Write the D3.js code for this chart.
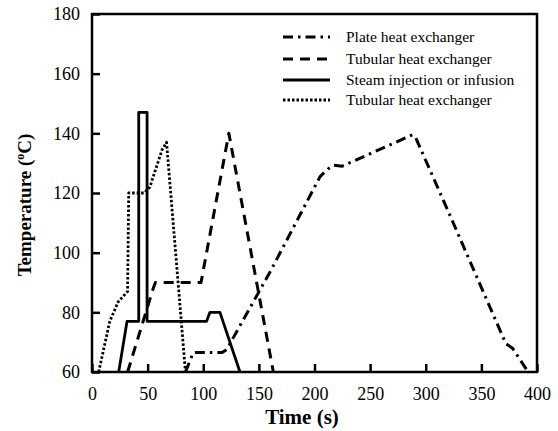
<!DOCTYPE html>
<html>
<head>
<meta charset="utf-8">
<title>Temperature profiles</title>
<script src="https://cdn.jsdelivr.net/npm/d3@7"></script>
<style>
  body { margin: 0; background: #fff; }
  svg { display: block; }
  text { font-family: "Liberation Serif", "Times New Roman", serif; fill: #000; }
</style>
</head>
<body>
<div id="chart"></div>
<script>

var xTicks = [0, 50, 100, 150, 200, 250, 300, 350, 400];
var yTicks = [60, 80, 100, 120, 140, 160, 180];

// plate heat exchanger (dash-dot)
var plateTime = [84, 91, 117, 121, 160, 205, 212, 217, 225, 288, 291, 320, 372, 378, 392];
var plateTemp = [60, 66.5, 66.5, 67.5, 93.5, 125.5, 128, 129.3, 129, 139.5, 138.5, 114, 69.5, 68, 60];

// tubular heat exchanger (dashed)
var tubeTime = [32, 55, 57, 98, 123, 163];
var tubeTemp = [60, 88, 90, 90, 140, 60];

// steam injection or infusion (solid)
var steamTime = [24, 31.5, 42, 42, 49.5, 49.5, 103, 106, 115, 133];
var steamTemp = [60, 77, 77, 147, 147, 77, 77, 80, 80, 60];

// tubular heat exchanger, second (dotted)
var tube2Time = [6, 16, 23.5, 32, 33, 47, 52, 63, 67, 84];
var tube2Temp = [60, 77, 83.5, 87, 120, 120, 122, 134.5, 137, 60];

var legendLabels = ['Plate heat exchanger', 'Tubular heat exchanger',
  'Steam injection or infusion', 'Tubular heat exchanger'];

var width = 558, height = 431;
var margin = {top: 14, left: 92, right: 21, bottom: 59};

var svg = d3.select('#chart').append('svg')
  .attr('width', width)
  .attr('height', height);

var x = d3.scaleLinear().domain([0, 400]).range([margin.left, width - margin.right]);
var y = d3.scaleLinear().domain([60, 180]).range([height - margin.bottom, margin.top]);

var series = [
  {t: plateTime, v: plateTemp, dash: '10,5,2.5,5', w: 3},
  {t: tubeTime, v: tubeTemp, dash: '10,7', w: 3},
  {t: steamTime, v: steamTemp, dash: null, w: 2.8},
  {t: tube2Time, v: tube2Temp, dash: '2.5,2', w: 2.8}
];

var line = d3.line()
  .x(function(d){ return x(d[0]); })
  .y(function(d){ return y(d[1]); });

svg.selectAll('path.series')
  .data(series).enter()
  .append('path')
    .attr('class', 'series')
    .attr('fill', 'none')
    .attr('stroke', '#000')
    .attr('stroke-width', function(d){ return d.w; })
    .attr('stroke-linejoin', 'round')
    .attr('stroke-dasharray', function(d){ return d.dash; })
    .attr('d', function(d){
      return line(d.t.map(function(t, i){ return [t, d.v[i]]; }));
    });

// frame
svg.append('rect')
  .attr('x', x(0)).attr('y', y(180))
  .attr('width', x(400) - x(0)).attr('height', y(60) - y(180))
  .attr('fill', 'none').attr('stroke', '#000').attr('stroke-width', 2.5);

var xAxis = d3.axisBottom(x).tickValues(xTicks).tickSize(-8).tickPadding(15);
var yAxis = d3.axisLeft(y).tickValues(yTicks).tickSize(-8).tickPadding(12);

var gx = svg.append('g')
  .attr('transform', 'translate(0,' + y(60) + ')')
  .call(xAxis);
var gy = svg.append('g')
  .attr('transform', 'translate(' + x(0) + ',0)')
  .call(yAxis);

[gx, gy].forEach(function(g){
  g.select('.domain').remove();
  g.selectAll('line').attr('stroke', '#000').attr('stroke-width', 2.5);
  g.selectAll('text')
    .attr('font-family', '"Liberation Serif", serif')
    .attr('font-size', 18);
});

// axis titles
svg.append('text')
  .attr('x', 302).attr('y', 424)
  .attr('text-anchor', 'middle')
  .attr('font-size', 21).attr('font-weight', 'bold')
  .text('Time (s)');

var yt = svg.append('text')
  .attr('transform', 'translate(31,205) rotate(-90)')
  .attr('text-anchor', 'middle')
  .attr('font-size', 19).attr('font-weight', 'bold');
yt.append('tspan').text('Temperature (');
yt.append('tspan').attr('font-size', 12).attr('dy', -7).text('o');
yt.append('tspan').attr('dy', 7).text('C)');

// legend
var legend = svg.append('g').attr('class', 'legend');
var rowY = [37, 59, 80, 100];
var items = legend.selectAll('g')
  .data(series).enter()
  .append('g')
    .attr('transform', function(d, i){ return 'translate(0,' + rowY[i] + ')'; });

items.append('line')
  .attr('x1', 283).attr('x2', 330)
  .attr('stroke', '#000')
  .attr('stroke-width', function(d){ return d.w; })
  .attr('stroke-dasharray', function(d){ return d.dash; });

items.append('text')
  .attr('x', 346).attr('dy', '0.35em')
  .attr('font-size', 15.5)
  .text(function(d, i){ return legendLabels[i]; });

</script>
</body>
</html>
